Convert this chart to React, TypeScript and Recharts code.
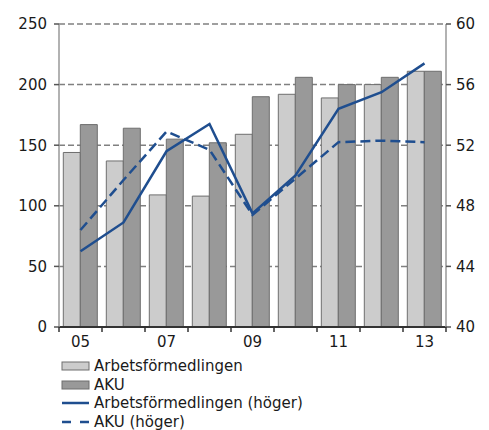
import React from 'react';
import {
  ComposedChart,
  Bar,
  Line,
  XAxis,
  YAxis,
  CartesianGrid,
  Legend,
} from 'recharts';

const years = ['05', '06', '07', '08', '09', '10', '11', '12', '13'];
const afBars = [144, 137, 109, 108, 159, 192, 189, 200, 211];
const akuBars = [167, 164, 155, 152, 190, 206, 200, 206, 211];
const afLine = [45.0, 46.9, 51.6, 53.4, 47.5, 50.0, 54.4, 55.5, 57.4];
const akuLine = [46.4, 49.7, 52.9, 51.7, 47.4, 49.8, 52.2, 52.3, 52.2];

const leftTicks = [0, 50, 100, 150, 200, 250];
const rightTicks = [40, 44, 48, 52, 56, 60];

const data = years.map((y, i) => ({
  year: y,
  af: afBars[i],
  aku: akuBars[i],
  afR: afLine[i],
  akuR: akuLine[i],
}));

const W = 489;
const H = 430;
const LEFT_W = 59;
const RIGHT_W = 43;
const BAND = (W - LEFT_W - RIGHT_W) / years.length;
const BLUE = '#1f4e8f';
const FONT = '"DejaVu Sans", Verdana, sans-serif';

const XTick = (props: any) => {
  const { x, y, payload, index } = props;
  const h = BAND / 2;
  return (
    <g>
      <line x1={x - h} x2={x - h} y1={y} y2={y + 5} stroke="#333" strokeWidth={1.5} />
      {index === years.length - 1 && (
        <line x1={x + h} x2={x + h} y1={y} y2={y + 5} stroke="#333" strokeWidth={1.5} />
      )}
      {index % 2 === 0 && (
        <text x={x} y={y + 20} textAnchor="middle" fontSize={15} fontFamily={FONT} fill="#1a1a1a">
          {payload.value}
        </text>
      )}
    </g>
  );
};

const legendItems = [
  { label: 'Arbetsförmedlingen', kind: 'bar', color: '#cccccc' },
  { label: 'AKU', kind: 'bar', color: '#999999' },
  { label: 'Arbetsförmedlingen (höger)', kind: 'line', color: BLUE },
  { label: 'AKU (höger)', kind: 'dash', color: BLUE },
];

const renderLegend = () => (
  <div style={{ fontFamily: FONT, fontSize: 15, color: '#1a1a1a' }}>
    {legendItems.map((it) => (
      <div key={it.label} style={{ display: 'flex', alignItems: 'center', height: 18.5 }}>
        <svg width={30} height={12} style={{ marginRight: 3 }}>
          {it.kind === 'bar' && (
            <rect x={1} y={2} width={27} height={8} fill={it.color} stroke="#6e6e6e" strokeWidth={1} />
          )}
          {it.kind === 'line' && <line x1={1} x2={28} y1={6} y2={6} stroke={it.color} strokeWidth={2.5} />}
          {it.kind === 'dash' && (
            <line x1={1} x2={28} y1={6} y2={6} stroke={it.color} strokeWidth={2.5} strokeDasharray="9 9" />
          )}
        </svg>
        <span>{it.label}</span>
      </div>
    ))}
  </div>
);

export default function App() {
  return (
    <div style={{ position: 'absolute', left: 0, top: 0, width: W, height: H, background: '#fff' }}>
      <ComposedChart
        width={W}
        height={H}
        data={data}
        margin={{ top: 24, right: 0, left: 0, bottom: 80 }}
        barCategoryGap="10%"
        barGap={0}
      >
        <CartesianGrid vertical={false} yAxisId="left" stroke="#808080" strokeWidth={1.5} strokeDasharray="6 3" />
        <XAxis
          dataKey="year"
          height={23}
          interval={0}
          tickLine={false}
          tickSize={0}
          tickMargin={0}
          tick={<XTick />}
          axisLine={{ stroke: '#333', strokeWidth: 2 }}
        />
        <YAxis
          yAxisId="left"
          width={LEFT_W}
          domain={[0, 250]}
          ticks={leftTicks}
          tickSize={5}
          tickMargin={7}
          tick={{ fontSize: 15, fontFamily: FONT, fill: '#1a1a1a' }}
          tickLine={{ stroke: '#555', strokeWidth: 1.5 }}
          axisLine={{ stroke: '#999', strokeWidth: 1.5 }}
        />
        <YAxis
          yAxisId="right"
          orientation="right"
          width={RIGHT_W}
          domain={[40, 60]}
          ticks={rightTicks}
          tickSize={5}
          tickMargin={5}
          tick={{ fontSize: 15, fontFamily: FONT, fill: '#1a1a1a' }}
          tickLine={{ stroke: '#555', strokeWidth: 1.5 }}
          axisLine={{ stroke: '#999', strokeWidth: 1.5 }}
        />
        <Bar yAxisId="left" dataKey="af" name="Arbetsförmedlingen" fill="#cccccc" stroke="#6e6e6e" strokeWidth={1} isAnimationActive={false} />
        <Bar yAxisId="left" dataKey="aku" name="AKU" fill="#999999" stroke="#6e6e6e" strokeWidth={1} isAnimationActive={false} />
        <Line yAxisId="right" type="linear" dataKey="afR" name="Arbetsförmedlingen (höger)" stroke={BLUE} strokeWidth={2.5} dot={false} isAnimationActive={false} />
        <Line yAxisId="right" type="linear" dataKey="akuR" name="AKU (höger)" stroke={BLUE} strokeWidth={2.5} strokeDasharray="10 5" dot={false} isAnimationActive={false} />
        <Legend
          layout="horizontal"
          verticalAlign="middle"
          align="center"
          content={renderLegend}
          wrapperStyle={{ left: 61, top: 357, width: 300 }}
        />
      </ComposedChart>
    </div>
  );
}
